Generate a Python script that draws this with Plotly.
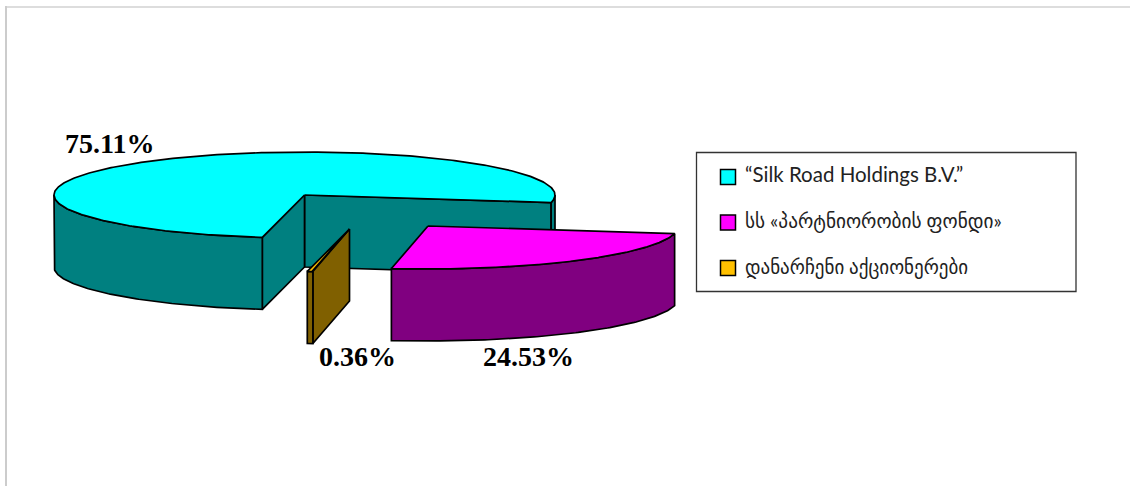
import numpy as np
import plotly.graph_objects as go

# --- data ---
categories = ["“Silk Road Holdings B.V.”", "სს «პარტნიორობის ფონდი»", "დანარჩენი აქციონერები"]
shares = [75.11, 24.53, 0.36]
share_labels = ["75.11%", "24.53%", "0.36%"]

# --- styles / layout constants ---
top_colors = ["#00FFFF", "#FF00FF", "#FFC000"]
side_colors = ["#008080", "#800080", "#806000"]
apexes = [(304.5, 195.0), (428.0, 226.0), (349.5, 229.0)]   # slice apex after explosion
RX, RY, DEPTH = 250.5, 43.0, 72.0
START = 99.7       # first slice starts here (screen clockwise from 3 o'clock)
label_pos = [(109, 143), (528, 356), (357, 356)]
legend_y = [177, 222.5, 268]
legend_text_y = [174, 221, 267]
legend_sizes = [20.5, 19.3, 19.0]

W, H = 1130, 486
LINE = dict(color="#000000", width=1.7)

fig = go.Figure()


def rim(apex, t0, t1, dy=0.0, n=120):
    t = np.radians(np.linspace(t0, t1, n))
    return apex[0] + RX * np.cos(t), apex[1] + dy + RY * np.sin(t)


def poly(xs, ys, color):
    fig.add_trace(go.Scatter(
        x=np.r_[xs, xs[0]], y=np.r_[ys, ys[0]], mode="lines", fill="toself",
        fillcolor=color, line=LINE, hoverinfo="skip", showlegend=False))


def wall(apex, angle, color):
    x, y = rim(apex, angle, angle, n=1)
    poly(np.array([apex[0], x[0], x[0], apex[0]]),
         np.array([apex[1], y[0], y[0] + DEPTH, apex[1] + DEPTH]), color)


def side(apex, a0, a1, color):
    xa, ya = rim(apex, a0, a1)
    xb, yb = rim(apex, a1, a0, DEPTH)
    poly(np.r_[xa, xb], np.r_[ya, yb], color)


def top(apex, a0, a1, color):
    x, y = rim(apex, a0, a1, n=360)
    poly(np.r_[apex[0], x], np.r_[apex[1], y], color)


# angular spans derived from the shares
spans = []
a = START
for s in shares:
    spans.append((a, a + s * 3.6))
    a += s * 3.6

# big slice
a0, a1 = spans[0]
wall(apexes[0], a1, side_colors[0])
wall(apexes[0], a0, side_colors[0])
side(apexes[0], a0, 180, side_colors[0])
side(apexes[0], 360, a1, side_colors[0])
top(apexes[0], a0, a1, top_colors[0])

# thin remainder slice
a0, a1 = spans[2]
wall(apexes[2], a0, side_colors[2])
side(apexes[2], a0, a1, side_colors[2])
top(apexes[2], a0, a1, top_colors[2])

# second slice
a0, a1 = spans[1]
side(apexes[1], a0, a1, side_colors[1])
top(apexes[1], a0, a1, top_colors[1])

# legend swatches
fig.add_trace(go.Scatter(
    x=[728] * 3, y=legend_y, mode="markers", hoverinfo="skip", showlegend=False,
    marker=dict(symbol="square", size=15, color=top_colors, line=dict(color="#000", width=1.5))))

annotations = []
for txt, (x, y) in zip(share_labels, label_pos):
    annotations.append(dict(x=x, y=y, text=f"<b>{txt}</b>", showarrow=False, xanchor="center", yanchor="middle",
                            font=dict(family="Liberation Serif", size=28, color="#000")))
for txt, y, sz in zip(categories, legend_text_y, legend_sizes):
    annotations.append(dict(x=744, y=y, text=txt, showarrow=False, xanchor="left", yanchor="middle",
                            font=dict(family="Lato, DejaVu Sans", size=sz, color="#222"), borderpad=0))

shapes = [
    dict(type="line", x0=5, x1=W, y0=7, y1=7, line=dict(color="#DDDDDD", width=2)),
    dict(type="line", x0=6, x1=6, y0=6, y1=H, line=dict(color="#CCCCCC", width=2)),
    dict(type="rect", x0=696.5, x1=1076, y0=152.5, y1=291.5, line=dict(color="#333333", width=1.3)),
]

fig.update_layout(
    width=W, height=H, autosize=False, margin=dict(l=0, r=0, t=0, b=0),
    paper_bgcolor="white", plot_bgcolor="white", showlegend=False,
    xaxis=dict(range=[0, W], visible=False, fixedrange=True),
    yaxis=dict(range=[H, 0], visible=False, fixedrange=True),
    annotations=annotations, shapes=shapes,
)

fig.write_html("out.html", config={"displayModeBar": False},
               post_script="document.body.style.margin='0';document.body.style.overflow='hidden';")
